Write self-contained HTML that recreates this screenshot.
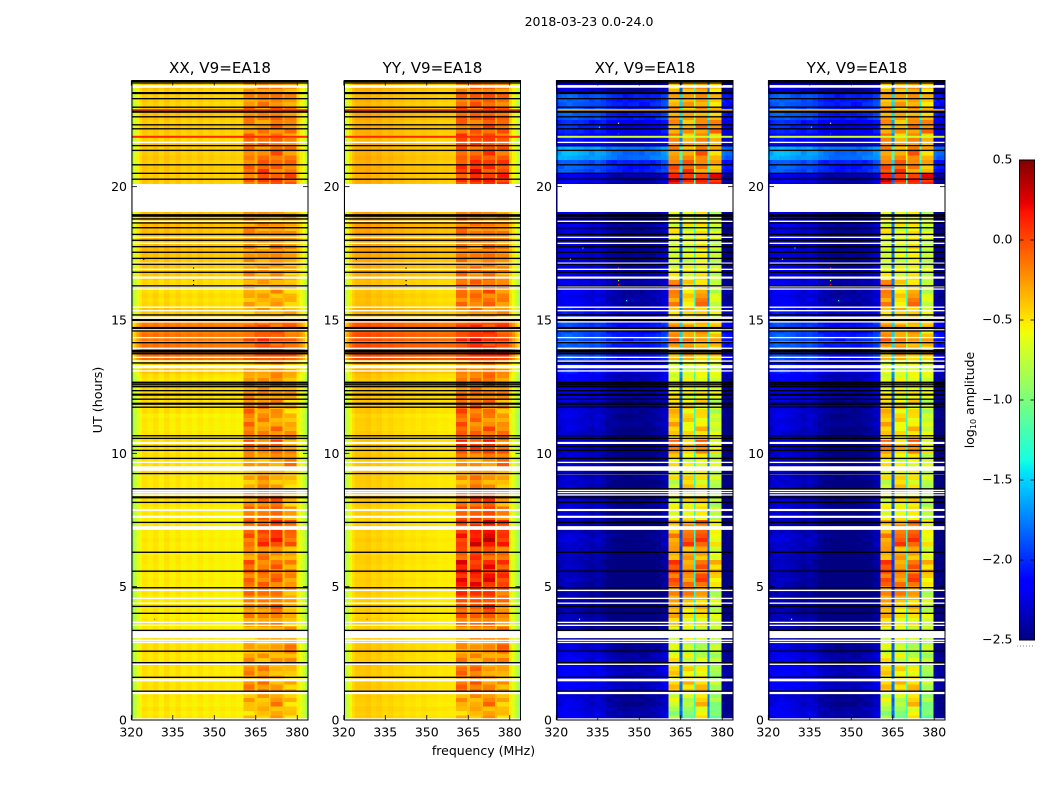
<!DOCTYPE html>
<html>
<head>
<meta charset="utf-8">
<title>2018-03-23 0.0-24.0</title>
<style>
html,body{margin:0;padding:0;background:#fff;}
svg{display:block;font-family:"DejaVu Sans",sans-serif;fill:#000;}
</style>
</head>
<body>
<svg id="chart" xmlns="http://www.w3.org/2000/svg" width="1050" height="800" viewBox="0 0 1050 800">
<rect x="0" y="0" width="1050" height="800" fill="#fff"/>
<text x="589" y="26" font-size="12.5" text-anchor="middle">2018-03-23 0.0-24.0</text>
<text transform="translate(102,400) rotate(-90)" font-size="12.7" text-anchor="middle">UT (hours)</text>
<text x="483.5" y="755" font-size="12.5" text-anchor="middle">frequency (MHz)</text>
<text transform="translate(974,400) rotate(-90)" font-size="12.5" text-anchor="middle">log<tspan font-size="8" dy="2">10</tspan><tspan dy="-2"> amplitude</tspan></text>
</svg>
<script>
// ---- categories and ticks ----
var panelTitles = ["XX, V9=EA18", "YY, V9=EA18", "XY, V9=EA18", "YX, V9=EA18"];
var xTickLabels = [320, 335, 350, 365, 380];
var yTickLabels = [0, 5, 10, 15, 20];
var colorbarTicks = [0.5, 0, -0.5, -1, -1.5, -2, -2.5];
var freqEdges = [320,321,322,323,324,326,328,330,332,334,336,338,340,342,344,346,348,350,352,354,356,358,360,360.6,362.6,364.7,365.7,367.7,369.9,370.5,372.5,374.8,375.5,377.5,379.8,381,382,383,384];
// 0 = baseline row value, 1-4 = sub-band row value
var columnBands = [0,0,0,0,0,0,0,0,0,0,0,0,0,0,0,0,0,0,0,0,0,0,0, 1,1,0,2,2,0,3,3,0,4,4,0,0,0,0];

// ---- spectral shape per polarisation (log10 offset per column) ----
var xxProfile = [-.38,-.25,-.12,-.04,.03,0,.04,-.02,.04,-.01,.03,-.02,.01,-.02,.02,-.02,.01,-.02,0,-.02,0,-.02,-.02, 0,0,.1,0,0,.1,0,0,.12,0,0,-.02,-.1,-.2,-.35];
var yyProfile = [-.3,-.18,-.05,.04,.1,.1,.12,.08,.1,.06,.08,.05,.06,.03,.04,.02,.04,.02,.02,0,.01,0,0, 0,0,.12,0,0,.15,0,0,.15,0,0,-.02,-.12,-.25,-.35];
var crossProfile = [.05,.08,.1,.12,.12,.1,.08,.05,.02,.06,.02,-.05,-.08,-.1,-.12,-.12,-.1,-.12,-.1,-.08,-.05,.02,.08, 0,0,.5,0,0,1.1,0,0,.6,0,0,-.1,-.15,-.15,-.15];

// ---- half-hour rows, from 0 UT upward ----
var xxLow = [-.52,-.52,-.5,-.5,-.5,-.5,-.52,-.53,-.53,-.53,-.53,-.53,-.53,-.53,-.53,-.53,-.5,-.52,-.5,-.5,-.5,-.52,-.53,-.5,-.47,-.5,-.42,-.12,-.15,-.18,-.42,-.48,-.48,-.42,-.4,-.38,-.38,-.38,-.4,-.4,-.42,-.42,-.42,-.44,-.42,-.4,-.44,-.42];
var xxHigh = [
[-.35,-.3,-.25,-.35],[-.28,-.25,-.15,-.33],[-.12,-.12,-.2,-.3],[-.15,-.12,-.3,-.35],
[-.2,-.22,-.25,-.22],[-.25,-.28,-.25,-.12],[-.3,-.3,-.3,-.25],[-.15,-.18,-.12,-.3],
[-.15,-.15,-.05,-.25],[-.1,-.08,-.12,-.25],[-.05,-.08,-.03,-.15],[-.02,-.05,-.05,-.15],
[-.18,-.1,-.18,-.25],[0,.1,.18,-.02],[-.05,.05,.1,-.05],[-.02,-.05,-.02,-.2],
[-.15,-.05,0,-.3],[-.28,-.15,-.25,-.35],[-.3,-.2,-.28,-.35],[-.22,-.25,-.2,-.1],
[-.02,-.1,.02,-.2],[-.1,-.15,-.1,-.15],[-.1,-.15,-.2,-.3],[-.05,-.15,-.15,-.35],
[-.18,-.15,-.2,-.22],[-.15,-.2,-.1,-.25],[-.25,-.25,-.2,-.3],[-.05,.08,.1,.02],
[0,.1,.02,-.05],[-.08,0,-.05,-.05],[-.3,-.25,-.25,-.3],[-.25,-.25,-.25,-.3],
[-.22,-.25,-.2,-.3],[-.15,-.22,-.15,-.28],[-.18,-.2,-.15,-.25],[-.18,-.22,-.12,-.22],
[-.12,-.18,-.18,-.2],[-.15,-.2,-.25,-.25],[-.2,-.2,-.25,-.25],[-.2,-.2,-.25,-.25],
[-.05,.08,.05,.02],[-.05,.05,-.05,-.05],[-.12,-.1,-.02,-.1],[-.02,-.08,-.05,-.15],
[-.15,-.15,-.05,-.12],[-.08,-.12,-.02,-.15],[-.15,-.12,-.1,-.18],[-.18,-.12,-.15,-.2]
];
var yyBoost = [.02,.05,.08,.08,.05,.08,.1,.12,.15,.2,.28,.25,.2,.18,.12,.1,.08,.05,.08,.05,.15,.1,.08,.1,.08,.1,.1,.1,.12,.12,.1,.18,.2,.1,.08,.06,.08,.08,.05,.05,.12,.15,.1,.12,.1,.1,.12,.08];
var xyLow = [-2.3,-2.35,-2.25,-2.25,-2.3,-2.35,-2.5,-2.45,-2.48,-2.48,-2.45,-2.45,-2.42,-2.38,-2.42,-2.4,-2.35,-2.4,-2.38,-2.4,-2.38,-2.38,-2.35,-2.35,-2.28,-2.25,-2.15,-2,-1.95,-2,-2.15,-2.3,-2.3,-2.3,-2.35,-2.35,-2.35,-2.3,-2.3,-2.3,-2.3,-1.95,-1.7,-2.2,-2.1,-1.95,-1.95,-2.35];
var xyHigh = [
[-1,-1.1,-.7,-1.15],[-.8,-.85,-.55,-1],[-.55,-.55,-.5,-.9],[-.6,-.6,-.7,-1],
[-.7,-.75,-.85,-.95],[-.8,-.85,-1,-.9],[-.75,-.75,-.9,-.95],[-.5,-.7,-.65,-.8],
[-.45,-.6,-.55,-.85],[-.4,-.3,-.45,-.9],[-.2,-.35,-.15,-.6],[-.15,-.35,-.25,-.5],
[-.45,-.45,-.45,-.75],[-.35,-.15,-.1,-.7],[-.55,-.35,-.25,-.75],[-.7,-.7,-.65,-.9],
[-.75,-.65,-.6,-.9],[-.85,-.55,-.7,-.9],[-.7,-.65,-.65,-.85],[-.65,-.75,-.7,-.85],
[-.3,-.55,-.25,-.7],[-.55,-.65,-.55,-.75],[-.5,-.6,-.65,-.85],[-.5,-.65,-.6,-.9],
[-.7,-.7,-.65,-.75],[-.75,-.75,-.7,-.75],[-.8,-.8,-.75,-.8],[-.55,-.35,-.5,-.55],
[-.25,-.35,-.4,-.45],[-.4,-.45,-.45,-.6],[-.55,-.55,-.5,-.8],[-.35,-.6,-.3,-.8],
[-.25,-.6,-.55,-.85],[-.7,-.75,-.65,-.85],[-.85,-.8,-.7,-.9],[-.85,-.8,-.65,-.9],
[-.65,-.75,-.65,-.8],[-.75,-.7,-.7,-.85],[-.8,-.8,-.7,-.9],[-.8,-.8,-.7,-.9],
[.1,-.05,-.05,0],[-.2,-.15,-.35,-.45],[-.4,-.4,-.25,-.5],[-.3,-.5,-.35,-.5],
[-.4,-.45,-.3,-.3],[-.4,-.45,-.4,-.55],[-.45,-.45,-.4,-.55],[-.5,-.45,-.4,-.55]
];
// fine stripe pattern read from the sub-band rows
var fineTexture = [.08,-.06,.12,-.1,.02,.1,-.12,.05,-.03,.14,-.08,0,.09,-.05,-.12,.11,.03,-.09,.13,-.02,-.1,.07,.04,-.13,.1,-.04,.06,-.11,.12,-.07,.01];

// ---- flagged integrations: hour, thickness in hours ----
var whiteHours = [23.76,21.66,19.575,18.7,18.1,17.875,17.13,16.9,16.59,16.25,16.16,15.48,15.35,15.08,14.93,14.63,14.34,14.16,13.94,13.6,13.46,13.25,13.09,10.39,9.66,9.43,9.23,8.61,8.53,8.44,7.875,7.62,7.2,4.86,4.56,4.38,3.66,3.55,3.21,2.99,2.91,2.09,1.5,1.02,.03];
var whiteThick = [.1,.05,1.05,.05,.05,.05,.05,.05,.08,.05,.05,.05,.05,.1,.05,.05,.05,.05,.05,.05,.05,.12,.05,.08,.05,.17,.05,.05,.05,.05,.08,.08,.14,.05,.05,.05,.05,.05,.28,.05,.05,.05,.1,.1,.07];
var blackHours = [23.95,23.89,23.51,23.3,22.98,22.81,22.62,22.32,22.17,21.54,21.36,20.82,20.5,20.28,18.92,18.79,18.64,18.46,18.21,17.99,17.75,17.54,17.31,17.09,16.79,16.28,15.19,15,14.7,14.59,14.15,13.84,13.75,13.39,12.65,12.57,12.5,12.35,12.2,12.03,11.86,11.73,10.66,10.56,10.26,10.11,9.81,9.24,8.67,8.35,8.16,7.41,6.29,5.58,4.96,4.26,4,3.36,2.58,2.15,1.6,1.08];
var blackThick = [.05,.05,.08,.05,.05,.08,.05,.05,.05,.05,.05,.05,.05,.05,.1,.05,.05,.05,.05,.05,.05,.05,.05,.05,.05,.05,.05,.08,.08,.05,.05,.08,.08,.05,.08,.05,.05,.05,.08,.05,.08,.05,.05,.05,.05,.05,.05,.05,.05,.08,.05,.05,.05,.05,.05,.05,.05,.05,.05,.05,.05,.05];
var brightHours = [22.87, 21.87];
var autoBrightValues = [.05, .1];
var crossBrightValues = [-.35, -.7];

// ---- isolated bad points: MHz, hour, log10 amplitude ----
var autoSpeckFreq = [324.4, 342.4, 342.4, 342.4, 328.3];
var autoSpeckHour = [17.3, 16.97, 16.5, 16.35, 3.8];
var autoSpeckValue = [-9, -9, -9, -9, 0];
var crossSpeckFreq = [342.4, 335.5, 342.4, 329.5, 325, 342.4, 342.4, 342.4, 328.3, 345.3];
var crossSpeckHour = [22.4, 22.25, 22.0, 17.72, 17.3, 16.97, 16.5, 16.35, 3.8, 15.75];
var crossSpeckValue = [-.6, -1.3, -1.9, -1.5, -.3, 0, -.8, .2, -.6, -1.4];

var SVG_NS = "http://www.w3.org/2000/svg";
var chart = document.getElementById("chart");
var vMin = -2.5, vMax = 0.5;
var panelLeft = [132, 344.5, 557, 769];
var panelWidth = 176;
var plotTop = 80.5, plotBottom = 720;
var hourSpan = 24, freqStart = 320, freqEnd = 384;
var rowsPerBin = 3;
var autoHighShift = -0.08, crossHighShift = 0.12;

// matplotlib jet colormap anchor points
var jetRed = [[0,0],[.35,0],[.66,1],[.89,1],[1,.5]];
var jetGreen = [[0,0],[.125,0],[.375,1],[.64,1],[.91,0],[1,0]];
var jetBlue = [[0,.5],[.11,1],[.34,1],[.65,0],[1,0]];

function make(parent, tag, attrs) {
  var n = document.createElementNS(SVG_NS, tag);
  for (var k in attrs) n.setAttribute(k, attrs[k]);
  parent.appendChild(n);
  return n;
}
function clamp01(v) { return Math.max(0, Math.min(1, v)); }
function channel(points, t) {
  for (var i = 1; i < points.length; i++) {
    if (t <= points[i][0]) {
      var a = points[i - 1], b = points[i];
      return a[1] + (b[1] - a[1]) * (t - a[0]) / (b[0] - a[0]);
    }
  }
  return points[points.length - 1][1];
}
function jet(v) {
  var t = clamp01((v - vMin) / (vMax - vMin));
  return "rgb(" + Math.round(channel(jetRed, t) * 255) + "," + Math.round(channel(jetGreen, t) * 255) + "," + Math.round(channel(jetBlue, t) * 255) + ")";
}
function yScale(h) { return 720 - h * (720 - 80) / hourSpan; }
function xScale(left, f) { return left + (f - freqStart) * 177 / (freqEnd - freqStart) - 1; }

var panelLow = [xxLow, xxLow, xyLow, xyLow];
var panelProfile = [xxProfile, yyProfile, crossProfile, crossProfile];

function cellValue(p, bin, sub, c) {
  var band = columnBands[c];
  var rowIndex = bin * rowsPerBin + sub;
  var cross = p >= 2;
  var base;
  if (band === 0) {
    var noise = cross ? fineTexture[(rowIndex + c * 3) % fineTexture.length] * 0.3
                      : fineTexture[rowIndex % fineTexture.length] * 0.12;
    base = panelLow[p][bin] + noise + panelProfile[p][c];
    if (p === 1 && bin >= 27 && bin <= 29) base += 0.04;
    return base;
  }
  var high = cross ? xyHigh : xxHigh;
  base = high[bin][band - 1] + panelProfile[p][c] + (cross ? crossHighShift : autoHighShift);
  base += fineTexture[(rowIndex + band * 5) % fineTexture.length] * (cross ? 0.9 : 0.85);
  if (p === 1) base += yyBoost[bin];
  return base;
}

panelTitles.forEach(function (title, p) {
  var left = panelLeft[p];
  var g = make(chart, "g", {});
  
  

  var cells = make(g, "g", {"shape-rendering": "crispEdges"});
  
  
  var bins = panelLow[p].length;
  for (var bin = 0; bin < bins; bin++) {
    for (var sub = 0; sub < rowsPerBin; sub++) {
      var hA = (bin + sub / rowsPerBin) * hourSpan / bins;
      var hB = (bin + (sub + 1) / rowsPerBin) * hourSpan / bins;
      for (var c = 0; c < freqEdges.length - 1; c++) {
        var xa = xScale(left, freqEdges[c]), xb = xScale(left, freqEdges[c + 1]);
        var cell = make(cells, "rect", {
          x: xa.toFixed(2), y: yScale(hB).toFixed(2),
          width: (xb - xa).toFixed(2), height: (yScale(hA) - yScale(hB)).toFixed(2),
          fill: jet(cellValue(p, bin, sub, c))
        });
        
        
      }
    }
  }

  var right = left + panelWidth;
  brightHours.forEach(function (h, i) {
    var v = p >= 2 ? crossBrightValues[i] : autoBrightValues[i];
    var line = make(g, "rect", {x: left, y: yScale(h) - 1, width: panelWidth, height: 2, fill: jet(v)});
    
    
  });
  whiteHours.forEach(function (h, i) {
    var th = whiteThick[i];
    var band = make(g, "rect", {x: left, y: yScale(h + th / 2), width: panelWidth, height: yScale(h - th / 2) - yScale(h + th / 2), fill: "#fff"});
    
    
  });
  blackHours.forEach(function (h, i) {
    var th = blackThick[i];
    var band = make(g, "rect", {x: left, y: yScale(h + th / 2), width: panelWidth, height: yScale(h - th / 2) - yScale(h + th / 2), fill: "#000"});
    
    
  });

  var sf = p >= 2 ? crossSpeckFreq : autoSpeckFreq;
  var sh = p >= 2 ? crossSpeckHour : autoSpeckHour;
  var sv = p >= 2 ? crossSpeckValue : autoSpeckValue;
  sf.forEach(function (f, i) {
    var speck = make(g, "rect", {x: xScale(left, f), y: yScale(sh[i]), width: 1.2, height: 1.2, fill: sv[i] < -5 ? "#000" : jet(sv[i])});
    
    
  });

  var frame = make(g, "rect", {x: left, y: plotTop, width: panelWidth, height: plotBottom - plotTop, fill: "none", stroke: "#000", "stroke-width": 1});
  
  

  xTickLabels.forEach(function (f) {
    var x = xScale(left, f) + 0.3;
    var a = make(g, "line", {x1: x, x2: x, y1: plotBottom, y2: plotBottom - 5, stroke: "#000", "stroke-width": 0.8});
    
    
    var b = make(g, "line", {x1: x, x2: x, y1: plotTop, y2: plotTop + 5, stroke: "#000", "stroke-width": 0.8});
    
    
    var t = make(g, "text", {x: x, y: 736.5, "font-size": 12.5, "text-anchor": "middle"});
    
    
    t.textContent = f;
  });
  yTickLabels.forEach(function (h) {
    var y = yScale(h);
    var a = make(g, "line", {x1: left, x2: left + 5, y1: y, y2: y, stroke: "#000", "stroke-width": 0.8});
    
    
    var b = make(g, "line", {x1: right - 5, x2: right, y1: y, y2: y, stroke: "#000", "stroke-width": 0.8});
    
    
    var t = make(g, "text", {x: left - 5, y: y + 4.5, "font-size": 12.5, "text-anchor": "end"});
    
    
    t.textContent = h;
  });
  var tt = make(g, "text", {x: left + panelWidth / 2, y: 73, "font-size": 15.1, "text-anchor": "middle"});
  
  
  tt.textContent = title;
});

// ---- colorbar ----
var cbLeft = 1019.5, cbWidth = 15, cbTop = 160, cbBottom = 640;
function cbY(v) { return cbBottom - (v - vMin) / (vMax - vMin) * (cbBottom - cbTop); }
var cb = make(chart, "g", {});


var cbStrip = make(cb, "g", {"shape-rendering": "crispEdges"});


for (var py = cbTop; py < cbBottom; py++) {
  var vv = vMin + (cbBottom - py - 0.5) / (cbBottom - cbTop) * (vMax - vMin);
  var seg = make(cbStrip, "rect", {x: cbLeft, y: py, width: cbWidth, height: 1, fill: jet(vv)});
  
  
}
var cbFrame = make(cb, "rect", {x: cbLeft, y: cbTop, width: cbWidth, height: cbBottom - cbTop, fill: "none", stroke: "#000", "stroke-width": 1});


colorbarTicks.forEach(function (v) {
  var y = cbY(v);
  var a = make(cb, "line", {x1: cbLeft, x2: cbLeft + 4, y1: y, y2: y, stroke: "#000", "stroke-width": 0.8});
  
  
  var b = make(cb, "line", {x1: cbLeft + cbWidth - 4, x2: cbLeft + cbWidth, y1: y, y2: y, stroke: "#000", "stroke-width": 0.8});
  
  
  var t = make(cb, "text", {x: 1012.5, y: y + 3.5, "font-size": 12.5, "text-anchor": "end"});
  
  
  t.textContent = v.toFixed(1).replace("-", "\u2212");
});
var dots = make(cb, "line", {x1: 1017, x2: 1035, y1: 646, y2: 646, stroke: "#888", "stroke-width": 1, "stroke-dasharray": "1 2"});


</script>
</body>
</html>
